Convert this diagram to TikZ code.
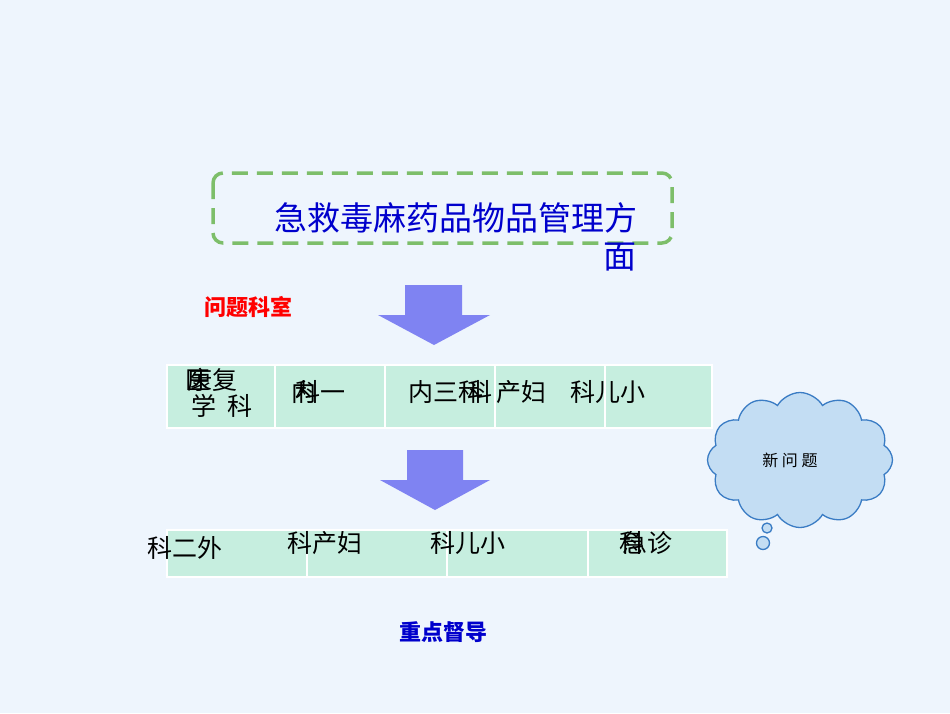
\documentclass[tikz,border=0pt]{standalone}
\usepackage{fontspec}
\setmainfont{Noto Sans CJK SC}
\usepackage{xcolor}
\usetikzlibrary{shapes.symbols, shapes.arrows, positioning, calc}
\definecolor{bgblue}{HTML}{EEF5FD}
\definecolor{mint}{HTML}{C6EEDF}
\definecolor{dashgreen}{HTML}{7DBE6A}
\definecolor{arrowblue}{HTML}{7F83F2}
\definecolor{cloudfill}{HTML}{C3DDF3}
\definecolor{cloudline}{HTML}{3A7CC4}
\begin{document}
\begin{tikzpicture}[x=1pt, y=-1pt,
            cell/.style={draw=white, line width=1.2pt, fill=mint},
            label/.style={font=\fontsize{25}{25}\selectfont, inner sep=0pt},
            downarrow/.style={fill=arrowblue, draw=none},
            bubble/.style={circle, draw=cloudline, fill=cloudfill, line width=1.3pt}
        ]
        % background
        \fill[bgblue] (0,0) rectangle (950,713);
        \useasboundingbox (0,0) rectangle (950,713);

        % ===== TITLE BOX =====
        \draw[dashgreen, line width=3.5pt, dash pattern=on 16pt off 9pt, rounded corners=10pt]
            (213,173) rectangle (672,243);
        \node[font=\fontsize{33}{33}\selectfont, text=blue!80!black, inner sep=0pt] (title) at (456,218) {急救毒麻药品物品管理方};
        \node[font=\fontsize{33}{33}\selectfont, text=blue!80!black, inner sep=0pt] (title2) at (620,257) {面};

        \node[font=\fontsize{22}{22}\selectfont\bfseries, text=red, inner sep=0pt] (problem) at (248,307) {问题科室};

        % ===== ARROWS =====
        \fill[downarrow] (405,285) -- (462,285) -- (462,315) -- (490,315) -- (434,345) -- (378,315) -- (405,315) -- cycle;
        \fill[downarrow] (407,450) -- (463,450) -- (463,480) -- (490,480) -- (435,510) -- (380,480) -- (407,480) -- cycle;

        % ===== ROW 1 =====
        \foreach \xa/\xb in {167/275, 275/385, 385/495, 495/605, 605/712}
            \draw[cell] (\xa,365) rectangle (\xb,428);
        \node[label] (r1a) at (212,380) {康复};
        \node[label] (r1b) at (198,380) {医};
        \node[label] (r1c) at (222,406) {学\ \ 科};
        \node[label] (r1d) at (320,392) {科一};
        \node[label] (r1e) at (304,392) {内};
        \node[label] (r1f) at (446,392) {内三科};
        \node[label] (r1g) at (480,392) {科};
        \node[label] (r1h) at (521,392) {产妇};
        \node[label] (r1i) at (608,392) {科儿小};

        % ===== ROW 2 =====
        \foreach \xa/\xb in {167/307, 307/447, 447/588, 588/727}
            \draw[cell] (\xa,530) rectangle (\xb,577);
        \node[label] (r2a) at (185,548) {科二外};
        \node[label] (r2b) at (325,543) {科产妇};
        \node[label] (r2c) at (468,543) {科儿小};
        \node[label] (r2d) at (647,543) {急诊};
        \node[label] (r2e) at (632,543) {科};

        \node[font=\fontsize{22}{22}\selectfont\bfseries, text=blue!80!black, inner sep=0pt] (focus) at (443,632) {重点督导};

        % ===== CLOUD =====
        \node[cloud, cloud puffs=12, cloud puff arc=120, aspect=1.3, draw=cloudline, fill=cloudfill,
              line width=1.3pt, minimum width=185pt, minimum height=135pt] (cloud) at (800,460) {};
        \node[font=\fontsize{16}{16}\selectfont, inner sep=0pt] at (790,460) {新\ 问\ 题};
        \node[bubble, minimum size=10pt, inner sep=0pt] (b1) at (767,528) {};
        \node[bubble, minimum size=13pt, inner sep=0pt] (b2) at (763,543) {};
\end{tikzpicture}
\end{document}
